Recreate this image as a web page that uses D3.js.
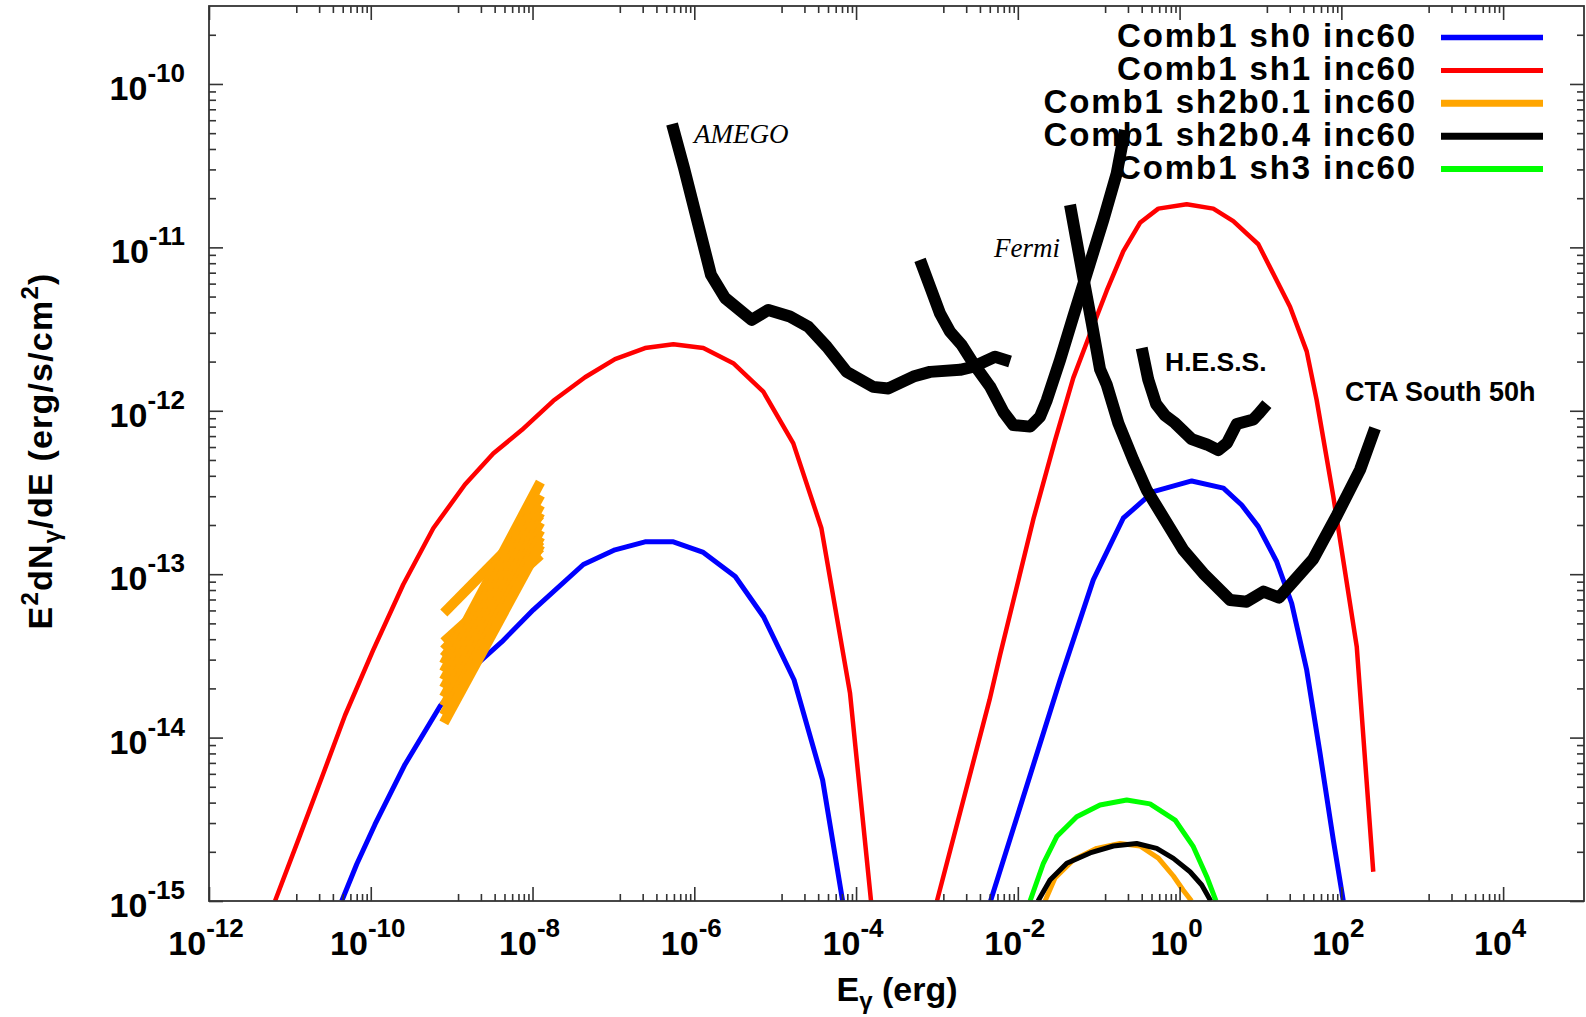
<!DOCTYPE html>
<html>
<head>
<meta charset="utf-8">
<script src="https://cdn.jsdelivr.net/npm/d3@7"></script>
<style>
  html, body { margin: 0; padding: 0; background: #fff; }
  svg { display: block; }
  text { font-family: "Liberation Sans", Arial, Helvetica, sans-serif; fill: #000; }
</style>
</head>
<body>
<svg id="chart" width="1586" height="1017"></svg>
<script>
// ---- Spectra: [E_gamma (erg), E^2 dN/dE (erg/s/cm^2)] ----
const sh0Low = [[4.38e-11,1.0e-15],[6.70e-11,1.679e-15],[1.127e-10,2.94e-15],[2.65e-10,6.85e-15],[7.18e-10,1.556e-14],[2.04e-9,2.81e-14],[4.16e-9,3.85e-14],[1.023e-8,6.05e-14],[4.25e-8,1.146e-13],[1.047e-7,1.409e-13],[2.46e-7,1.578e-13],[5.51e-7,1.578e-13],[1.294e-6,1.358e-13],[3.21e-6,9.68e-14],[7.21e-6,5.47e-14],[1.710e-5,2.26e-14],[3.86e-5,5.50e-15],[6.82e-5,1.0e-15]];
const sh0High = [[4.60e-3,1.0e-15],[3.33e-2,2.25e-14],[8.57e-2,9.23e-14],[2.01e-1,2.20e-13],[4.73e-1,3.20e-13],[1.413,3.72e-13],[3.48,3.36e-13],[5.86,2.65e-13],[9.40,1.954e-13],[15.9,1.191e-13],[24.3,6.64e-14],[37.3,2.59e-14],[54.5,8.02e-15],[79.6,2.36e-15],[105.7,1.0e-15]];

const sh1Low = [[6.55e-12,1.0e-15],[1.334e-11,2.52e-15],[2.59e-11,6.03e-15],[4.81e-11,1.37e-14],[1.074e-10,3.44e-14],[2.52e-10,8.65e-14],[5.93e-10,1.91e-13],[1.462e-9,3.54e-13],[3.27e-9,5.47e-13],[7.35e-9,7.62e-13],[1.807e-8,1.151e-12],[4.46e-8,1.603e-12],[1.047e-7,2.07e-12],[2.46e-7,2.42e-12],[5.51e-7,2.55e-12],[1.294e-6,2.42e-12],[3.03e-6,1.954e-12],[7.13e-6,1.309e-12],[1.675e-5,6.32e-13],[3.72e-5,1.919e-13],[8.41e-5,1.879e-14],[1.531e-4,1.0e-15]];
const sh1High = [[1.0e-3,1.0e-15],[4.47e-3,1.70e-14],[6.03e-3,3.20e-14],[1.556e-2,2.17e-13],[2.88e-2,6.56e-13],[4.85e-2,1.59e-12],[7.82e-2,2.96e-12],[1.256e-1,5.43e-12],[2.01e-1,9.44e-12],[3.24e-1,1.413e-11],[5.46e-1,1.726e-11],[1.225,1.837e-11],[2.61,1.726e-11],[4.61,1.449e-11],[9.40,1.045e-11],[23.2,4.33e-12],[37.3,2.31e-12],[49.5,1.164e-12],[79.6,2.98e-13],[155,3.60e-14],[248,1.51e-15]];

const sh2b01High = [[2.17e-2,1.0e-15],[2.88e-2,1.384e-15],[4.85e-2,1.782e-15],[9.46e-2,2.10e-15],[1.837e-1,2.25e-15],[3.24e-1,2.17e-15],[5.46e-1,1.832e-15],[8.38e-1,1.422e-15],[1.104,1.167e-15],[1.406,1.0e-15]];
// X-ray power-law band of sh2b0.1: each line spans bowtieEnergy, flux at both ends
const bowtieEnergy = [8.0e-10, 1.25e-8];
const bowtieFluxLow  = [5.79e-14,3.85e-14,3.44e-14,3.11e-14,2.82e-14,2.52e-14,2.25e-14,2.01e-14,1.77e-14,1.56e-14,1.37e-14,1.23e-14];
const bowtieFluxHigh = [2.30e-13,1.31e-13,1.45e-13,1.60e-13,3.66e-13,3.05e-13,2.65e-13,2.37e-13,2.08e-13,1.86e-13,1.69e-13,1.51e-13];

const sh2b04High = [[1.778e-2,1.0e-15],[2.50e-2,1.346e-15],[4.03e-2,1.702e-15],[7.82e-2,1.968e-15],[1.517e-1,2.17e-15],[2.95e-1,2.25e-15],[5.21e-1,2.10e-15],[8.38e-1,1.824e-15],[1.346,1.51e-15],[1.879,1.253e-15],[2.43,1.0e-15]];
const sh3High = [[1.416e-2,1.0e-15],[2.07e-2,1.702e-15],[3.03e-2,2.48e-15],[5.35e-2,3.28e-15],[1.038e-1,3.87e-15],[2.22e-1,4.15e-15],[4.31e-1,3.93e-15],[8.79e-1,3.13e-15],[1.479,2.15e-15],[2.17,1.409e-15],[2.82,1.0e-15]];

// ---- Instrument sensitivity curves ----
const amego = [[5.31e-7,5.69e-11],[7.46e-7,3.06e-11],[1.61e-6,6.78e-12],[2.40e-6,4.90e-12],[5.13e-6,3.60e-12],[8.22e-6,4.14e-12],[1.52e-5,3.77e-12],[2.57e-5,3.27e-12],[4.34e-5,2.47e-12],[7.66e-5,1.73e-12],[1.63e-4,1.40e-12],[2.51e-4,1.37e-12],[5.11e-4,1.62e-12],[8.22e-4,1.73e-12],[1.93e-3,1.78e-12],[2.82e-3,1.86e-12],[5.22e-3,2.14e-12],[8.02e-3,2.00e-12]];
const fermi = [[6.18e-4,8.38e-12],[8.22e-4,5.74e-12],[1.09e-3,3.95e-12],[1.45e-3,3.05e-12],[2.02e-3,2.53e-12],[2.82e-3,1.95e-12],[4.53e-3,1.41e-12],[6.62e-3,9.86e-13],[8.79e-3,8.18e-13],[1.42e-2,8.00e-13],[1.88e-2,9.20e-13],[2.28e-2,1.16e-12],[3.33e-2,2.05e-12],[4.85e-2,3.77e-12],[7.11e-2,6.93e-12],[1.14e-1,1.47e-11],[1.67e-1,2.84e-11],[2.11e-1,5.22e-11]];
const hess = [[3.40e-1,2.42e-12],[4.10e-1,1.55e-12],[5.12e-1,1.10e-12],[6.61e-1,9.35e-13],[8.79e-1,8.41e-13],[1.41,6.71e-13],[2.17,6.22e-13],[3.01,5.75e-13],[3.86,6.35e-13],[5.09,8.30e-13],[8.17,8.85e-13],[9.42,9.55e-13],[12.0,1.10e-12]];
const ctaSouth = [[4.42e-2,1.82e-11],[6.17e-2,7.35e-12],[8.20e-2,3.45e-12],[1.04e-1,1.79e-12],[1.26e-1,1.44e-12],[1.75e-1,8.38e-13],[2.68e-1,5.00e-13],[3.93e-1,3.27e-13],[1.11,1.41e-13],[1.97,1.01e-13],[4.21,6.95e-14],[6.76,6.79e-14],[10.9,7.82e-14],[17.0,7.19e-14],[45.0,1.24e-13],[88.3,2.30e-13],[170,4.35e-13],[261,7.82e-13]];

// ---- Legend and tick labels ----
const legendNames = ["Comb1 sh0 inc60","Comb1 sh1 inc60","Comb1 sh2b0.1 inc60","Comb1 sh2b0.4 inc60","Comb1 sh3 inc60"];
const legendColors = ["#0000ff","#ff0000","#ffa500","#000000","#00ff00"];
const xTickExponents = [-12,-10,-8,-6,-4,-2,0,2,4];
const yTickExponents = [-15,-14,-13,-12,-11,-10];
const instrumentLabels = ["AMEGO","Fermi","H.E.S.S.","CTA South 50h"];

// ---- Layout ----
const W = 1586, H = 1017;
const plot = { left: 209, right: 1584, top: 6, bottom: 901 };
const x = d3.scaleLog().domain([1e-12, 1e5]).range([plot.left, plot.right]);
const y = d3.scaleLog().domain([1e-15, 3e-10]).range([plot.bottom, plot.top]);

const svg = d3.select("#chart");
svg.append("rect").attr("width", W).attr("height", H).attr("fill", "#fff");
svg.append("defs").append("clipPath").attr("id", "plotClip").append("rect")
  .attr("x", plot.left).attr("y", plot.top)
  .attr("width", plot.right - plot.left).attr("height", plot.bottom - plot.top);

const line = d3.line().x(d => x(d[0])).y(d => y(d[1]));
const marks = svg.append("g").attr("clip-path", "url(#plotClip)");

function drawCurve(data, color, width) {
  marks.append("path").datum(data)
    .attr("d", line)
    .attr("fill", "none")
    .attr("stroke", color)
    .attr("stroke-width", width)
    .attr("stroke-linejoin", "round")
    .attr("stroke-linecap", "butt");
}

// model spectra
drawCurve(sh0Low, legendColors[0], 5);
drawCurve(sh0High, legendColors[0], 5);
drawCurve(sh1Low, legendColors[1], 4.5);
drawCurve(sh1High, legendColors[1], 4.5);
bowtieFluxLow.forEach((f, i) => {
  drawCurve([[bowtieEnergy[0], f], [bowtieEnergy[1], bowtieFluxHigh[i]]], legendColors[2], 10);
});
drawCurve(sh2b01High, legendColors[2], 5);
drawCurve(sh2b04High, legendColors[3], 5);
drawCurve(sh3High, legendColors[4], 5);

// sensitivities
[amego, fermi, hess, ctaSouth].forEach(c => drawCurve(c, "#000", 12));

// instrument labels
const serif = "'Liberation Serif', 'Times New Roman', Times, serif";
svg.append("text").attr("x", 694).attr("y", 143)
  .style("font-family", serif).style("font-style", "italic")
  .attr("font-size", 27).text(instrumentLabels[0]);
svg.append("text").attr("x", 994).attr("y", 257)
  .style("font-family", serif).style("font-style", "italic")
  .attr("font-size", 27).text(instrumentLabels[1]);
svg.append("text").attr("x", 1165).attr("y", 371)
  .attr("font-weight", "bold").attr("font-size", 26.5).text(instrumentLabels[2]);
svg.append("text").attr("x", 1345).attr("y", 401)
  .attr("font-weight", "bold").attr("font-size", 27).text(instrumentLabels[3]);

// legend
const legendSampleWidths = [5.5, 5, 7, 7, 6];
const legend = svg.append("g");
legendNames.forEach((name, i) => {
  const cy = 37.5 + i * 32.9;
  legend.append("text").attr("x", 1417).attr("y", cy + 9.5)
    .attr("text-anchor", "end").attr("font-weight", "bold")
    .attr("font-size", 33).attr("letter-spacing", 1.9).text(name);
  legend.append("line").attr("x1", 1441).attr("x2", 1543).attr("y1", cy).attr("y2", cy)
    .attr("stroke", legendColors[i]).attr("stroke-width", legendSampleWidths[i]);
});

// ---- Axes: ticks on all four sides, pointing inward ----
const xMajor = xTickExponents.map(n => Math.pow(10, n));
const xMinor = [];
xTickExponents.forEach(n => {
  [12, 23, 34, 45, 56, 67, 78, 89].forEach(k => {
    const v = k * Math.pow(10, n);
    if (v < 1e5) xMinor.push(v);
  });
});
const yMajor = yTickExponents.map(n => Math.pow(10, n));
const yMinor = [];
yTickExponents.forEach(n => {
  [2, 3, 4, 5, 6, 7, 8, 9].forEach(k => {
    const v = k * Math.pow(10, n);
    if (v < 2.9e-10) yMinor.push(v);
  });
});

function tickGroup(axisGen, values, size, transform) {
  svg.append("g").attr("transform", transform)
    .call(axisGen.tickValues(values).tickSizeInner(-size).tickSizeOuter(0).tickFormat(""))
    .call(s => s.select(".domain").remove())
    .selectAll("line").attr("stroke", "#333").attr("stroke-width", 1.6);
}
tickGroup(d3.axisBottom(x), xMajor, 14, `translate(0,${plot.bottom})`);
tickGroup(d3.axisBottom(x), xMinor, 7, `translate(0,${plot.bottom})`);
tickGroup(d3.axisTop(x), xMajor, 14, `translate(0,${plot.top})`);
tickGroup(d3.axisTop(x), xMinor, 7, `translate(0,${plot.top})`);
tickGroup(d3.axisLeft(y), yMajor, 14, `translate(${plot.left},0)`);
tickGroup(d3.axisLeft(y), yMinor, 7, `translate(${plot.left},0)`);
tickGroup(d3.axisRight(y), yMajor, 14, `translate(${plot.right},0)`);
tickGroup(d3.axisRight(y), yMinor, 7, `translate(${plot.right},0)`);

svg.append("rect")
  .attr("x", plot.left).attr("y", plot.top)
  .attr("width", plot.right - plot.left).attr("height", plot.bottom - plot.top)
  .attr("fill", "none").attr("stroke", "#333").attr("stroke-width", 1.8);

// tick labels as 10^n
xTickExponents.forEach(n => {
  const t = svg.append("text").attr("x", x(Math.pow(10, n)) - 3).attr("y", 955)
    .attr("text-anchor", "middle").attr("font-weight", "bold").attr("font-size", 34);
  t.append("tspan").text("10");
  t.append("tspan").attr("dy", -18).attr("font-size", 26).text(String(n));
});
yTickExponents.forEach(n => {
  const t = svg.append("text").attr("x", 185).attr("y", y(Math.pow(10, n)) + 16)
    .attr("text-anchor", "end").attr("font-weight", "bold").attr("font-size", 34);
  t.append("tspan").text("10");
  t.append("tspan").attr("dy", -18).attr("font-size", 26).text(String(n));
});

// axis titles
const xt = svg.append("text").attr("x", 897).attr("y", 1001)
  .attr("text-anchor", "middle").attr("font-weight", "bold").attr("font-size", 34);
xt.append("tspan").text("E");
xt.append("tspan").attr("dy", 8).attr("font-size", 24).text("γ");
xt.append("tspan").attr("dy", -8).text(" (erg)");

const yt = svg.append("text").attr("transform", "translate(52,451) rotate(-90)")
  .attr("text-anchor", "middle").attr("font-weight", "bold").attr("font-size", 34)
  .attr("letter-spacing", 1.2);
yt.append("tspan").text("E");
yt.append("tspan").attr("dy", -14).attr("font-size", 24).text("2");
yt.append("tspan").attr("dy", 14).text("dN");
yt.append("tspan").attr("dy", 8).attr("font-size", 24).text("γ");
yt.append("tspan").attr("dy", -8).text("/dE (erg/s/cm");
yt.append("tspan").attr("dy", -14).attr("font-size", 24).text("2");
yt.append("tspan").attr("dy", 14).text(")");
</script>
</body>
</html>
